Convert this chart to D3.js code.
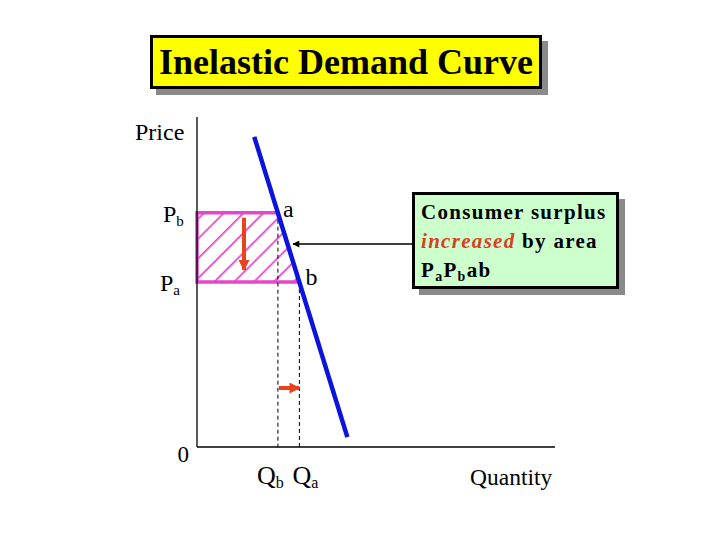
<!DOCTYPE html>
<html>
<head>
<meta charset="utf-8">
<script src="https://cdn.jsdelivr.net/npm/d3@7"></script>
<style>
  body { margin: 0; background: #fff; }
  svg { display: block; }
  text { font-family: "Liberation Serif", "Times New Roman", serif; }
</style>
</head>
<body>
<svg id="chart" width="720" height="540"></svg>
<script>
// values (arbitrary price / quantity units)
var demand = [{q: 1.6, p: 9.4}, {q: 4.2, p: 0.3}];
var prices = [{name: "P", sub: "b", p: 7.1}, {name: "P", sub: "a", p: 5.0}];
var quantities = [{name: "Q", sub: "b", q: 2.26}, {name: "Q", sub: "a", q: 2.86}];
var boxLines = ["Consumer surplus", "increased by area", "PaPbab"];

var svg = d3.select("#chart");

var x = d3.scaleLinear().domain([0, 10]).range([197, 555]);
var y = d3.scaleLinear().domain([0, 10]).range([447, 117]);

// hatch pattern
var defs = svg.append("defs");
var pat = defs.append("pattern")
  .attr("id", "hatch")
  .attr("patternUnits", "userSpaceOnUse")
  .attr("width", 14).attr("height", 14)
  .attr("patternTransform", "rotate(45)");
pat.append("line")
  .attr("x1", 0).attr("y1", 0).attr("x2", 0).attr("y2", 14)
  .attr("stroke", "#e448c8").attr("stroke-width", 3.5);

defs.append("marker")
  .attr("id", "redHead")
  .attr("viewBox", "0 0 10 10")
  .attr("refX", 9).attr("refY", 5)
  .attr("markerWidth", 11).attr("markerHeight", 11)
  .attr("markerUnits", "userSpaceOnUse")
  .attr("orient", "auto")
  .append("path").attr("d", "M0,0L10,5L0,10z").attr("fill", "#e8431e");
defs.append("marker")
  .attr("id", "blackHead")
  .attr("viewBox", "0 0 10 10")
  .attr("refX", 9).attr("refY", 5)
  .attr("markerWidth", 9).attr("markerHeight", 7)
  .attr("markerUnits", "userSpaceOnUse")
  .attr("orient", "auto")
  .append("path").attr("d", "M0,0L10,5L0,10z").attr("fill", "#000");

// title box
svg.append("rect").attr("x", 156).attr("y", 41).attr("width", 392).attr("height", 54).attr("fill", "#8a8a8a");
svg.append("rect").attr("x", 151.5).attr("y", 36.5).attr("width", 389).attr("height", 51)
  .attr("fill", "#ffff00").attr("stroke", "#000").attr("stroke-width", 3);
svg.append("text").attr("x", 346).attr("y", 74).attr("text-anchor", "middle")
  .attr("font-size", 36).attr("font-weight", "bold").text("Inelastic Demand Curve");

// surplus area
var qb = quantities[0].q, qa = quantities[1].q;
var pb = prices[0].p, pa = prices[1].p;
var area = [[0, pb], [qb, pb], [qa, pa], [0, pa]];
svg.append("path")
  .attr("d", d3.line().x(function(d) { return x(d[0]); }).y(function(d) { return y(d[1]); })(area) + "Z")
  .attr("fill", "url(#hatch)")
  .attr("stroke", "#e448c8").attr("stroke-width", 3.5);

// axes
svg.append("line").attr("x1", x(0)).attr("x2", x(0)).attr("y1", y(10)).attr("y2", y(0))
  .attr("stroke", "#000").attr("stroke-width", 1.3);
svg.append("line").attr("x1", x(0)).attr("x2", x(10)).attr("y1", y(0)).attr("y2", y(0))
  .attr("stroke", "#000").attr("stroke-width", 1.3);

// dashed guides
svg.selectAll(".guide").data(quantities).enter().append("line")
  .attr("class", "guide")
  .attr("x1", function(d) { return x(d.q); }).attr("x2", function(d) { return x(d.q); })
  .attr("y1", function(d, i) { return y(prices[i].p); }).attr("y2", y(0))
  .attr("stroke", "#000").attr("stroke-width", 1).attr("stroke-dasharray", "4,3");

// demand line
svg.append("line")
  .attr("x1", x(demand[0].q)).attr("y1", y(demand[0].p))
  .attr("x2", x(demand[1].q)).attr("y2", y(demand[1].p))
  .attr("stroke", "#0a14dc").attr("stroke-width", 4.5);

// red arrows
svg.append("line").attr("x1", 244).attr("x2", 244).attr("y1", y(pb) + 5).attr("y2", y(pa) - 12)
  .attr("stroke", "#e8431e").attr("stroke-width", 4).attr("marker-end", "url(#redHead)");
svg.append("line").attr("x1", x(qb) + 1).attr("x2", x(qa)).attr("y1", 388).attr("y2", 388)
  .attr("stroke", "#e8431e").attr("stroke-width", 4).attr("marker-end", "url(#redHead)");

// labels
svg.append("text").attr("x", 135).attr("y", 140).attr("font-size", 24).text("Price");
svg.append("text").attr("x", 189).attr("y", 462).attr("text-anchor", "end").attr("font-size", 23).text("0");
svg.append("text").attr("x", 470).attr("y", 485).attr("font-size", 23.5).text("Quantity");

svg.selectAll(".plab").data(prices).enter().append("text")
  .attr("class", "plab")
  .attr("x", function(d, i) { return i === 0 ? 163 : 160; })
  .attr("y", function(d) { return y(d.p) + 9; })
  .attr("font-size", 24)
  .each(function(d) {
    d3.select(this).append("tspan").text(d.name);
    d3.select(this).append("tspan").attr("dy", 4).attr("font-size", 15).text(d.sub);
  });

svg.selectAll(".qlab").data(quantities).enter().append("text")
  .attr("class", "qlab")
  .attr("x", function(d, i) { return i === 0 ? x(d.q) - 21 : x(d.q) - 7; })
  .attr("y", 484)
  .attr("font-size", 26)
  .each(function(d) {
    d3.select(this).append("tspan").text(d.name);
    d3.select(this).append("tspan").attr("dy", 4).attr("font-size", 16).text(d.sub);
  });

svg.append("text").attr("x", x(qb) + 5).attr("y", y(pb) + 4).attr("font-size", 24).text("a");
svg.append("text").attr("x", x(qa) + 6).attr("y", y(pa) + 3).attr("font-size", 24).text("b");

// callout arrow
svg.append("line").attr("x1", 412).attr("x2", 293).attr("y1", 244).attr("y2", 244)
  .attr("stroke", "#000").attr("stroke-width", 1.5).attr("marker-end", "url(#blackHead)");

// callout box
svg.append("rect").attr("x", 419).attr("y", 199).attr("width", 206).attr("height", 96).attr("fill", "#8a8a8a");
svg.append("rect").attr("x", 413.5).attr("y", 193.5).attr("width", 204).attr("height", 94)
  .attr("fill", "#ccffcc").attr("stroke", "#000").attr("stroke-width", 3);

var tb = svg.append("g").attr("font-size", 21).attr("font-weight", "bold").attr("letter-spacing", 1.3);
tb.append("text").attr("x", 421).attr("y", 219).text(boxLines[0]);
var l2 = tb.append("text").attr("x", 421).attr("y", 248);
l2.append("tspan").attr("font-style", "italic").attr("fill", "#d9401f").text(boxLines[1].split(" ")[0]);
l2.append("tspan").text(" " + boxLines[1].split(" ").slice(1).join(" "));
var l3 = tb.append("text").attr("x", 421).attr("y", 277);
l3.append("tspan").text("P");
l3.append("tspan").attr("dy", 4).attr("font-size", 14).text("a");
l3.append("tspan").attr("dy", -4).text("P");
l3.append("tspan").attr("dy", 4).attr("font-size", 14).text("b");
l3.append("tspan").attr("dy", -4).text("ab");
</script>
</body>
</html>
